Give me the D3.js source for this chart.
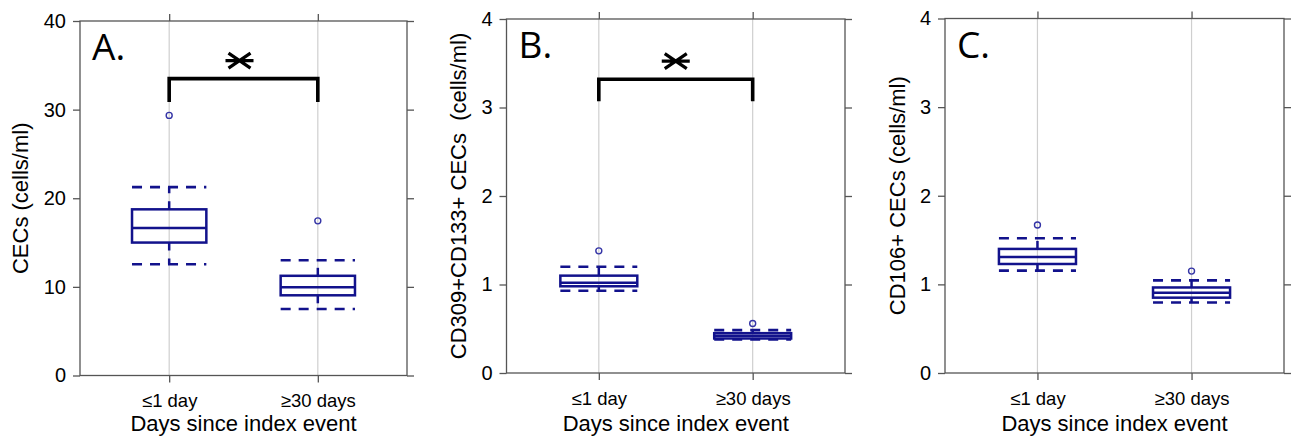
<!DOCTYPE html>
<html>
<head>
<meta charset="utf-8">
<script src="https://cdn.jsdelivr.net/npm/d3@7"></script>
<style>
  html, body { margin: 0; padding: 0; background: #fff; }
  svg { display: block; }
  text { font-family: "Liberation Sans", Arial, sans-serif; fill: #000; }
</style>
</head>
<body>
<svg id="chart" width="1291" height="437"></svg>
<script>
// ---- data ----
const categories = ["≤1 day", "≥30 days"];
const panelLetters = ["A.", "B.", "C."];
const yLabels = ["CECs (cells/ml)", "CD309+CD133+ CECs  (cells/ml)", "CD106+ CECs (cells/ml)"];
const xLabel = "Days since index event";
const yMax = [40, 4, 4];
const yTicksA = [0, 10, 20, 30, 40];
const yTicksBC = [0, 1, 2, 3, 4];

// panel A
const aQ1 = [15.0, 9.05];
const aMedian = [16.65, 9.95];
const aQ3 = [18.75, 11.25];
const aLowerWhisker = [12.55, 7.5];
const aUpperWhisker = [21.25, 13.0];
const aOutliers = [29.35, 17.45];
const aBracket = [30.85, 33.5];

// panel B
const bQ1 = [0.98, 0.39];
const bMedian = [1.02, 0.42];
const bQ3 = [1.10, 0.45];
const bLowerWhisker = [0.93, 0.38];
const bUpperWhisker = [1.20, 0.485];
const bOutliers = [1.38, 0.56];
const bBracket = [3.07, 3.32];

// panel C
const cQ1 = [1.23, 0.85];
const cMedian = [1.31, 0.905];
const cQ3 = [1.40, 0.965];
const cLowerWhisker = [1.155, 0.795];
const cUpperWhisker = [1.52, 1.045];
const cOutliers = [1.67, 1.15];

const panels = [
  { letter: panelLetters[0], ylabel: yLabels[0], ymax: yMax[0], ticks: yTicksA,
    q1: aQ1, med: aMedian, q3: aQ3, lo: aLowerWhisker, hi: aUpperWhisker, out: aOutliers, bracket: aBracket,
    box: { left: 80, right: 407, top: 21, bottom: 375.5 }, ylabX: 20 },
  { letter: panelLetters[1], ylabel: yLabels[1], ymax: yMax[1], ticks: yTicksBC,
    q1: bQ1, med: bMedian, q3: bQ3, lo: bLowerWhisker, hi: bUpperWhisker, out: bOutliers, bracket: bBracket,
    box: { left: 506.5, right: 845, top: 19, bottom: 373 }, ylabX: 458 },
  { letter: panelLetters[2], ylabel: yLabels[2], ymax: yMax[2], ticks: yTicksBC,
    q1: cQ1, med: cMedian, q3: cQ3, lo: cLowerWhisker, hi: cUpperWhisker, out: cOutliers, bracket: null,
    box: { left: 945, right: 1284, top: 18.5, bottom: 373 }, ylabX: 897 }
];

// ---- drawing ----
const svg = d3.select("#chart");
const boxColor = "#12128c";
const frameColor = "#555";
const tickLen = 7;

panels.forEach(p => {
  const b = p.box;
  const x = d3.scaleLinear().domain([0.4, 2.6]).range([b.left, b.right]);
  const y = d3.scaleLinear().domain([0, p.ymax]).range([b.bottom, b.top]);
  const g = svg.append("g");
  const idx = [0, 1];
  const pos = i => x(i + 1);
  const halfW = (x(1.25) - x(1));

  // grid lines
  g.selectAll("line.grid").data(idx).join("line")
    .attr("x1", pos).attr("x2", pos)
    .attr("y1", b.top).attr("y2", b.bottom)
    .attr("stroke", "#cfcfcf").attr("stroke-width", 1.2);

  // axes (ticks outward on all four sides)
  const yLeft = d3.axisLeft(y).tickValues(p.ticks).tickSize(tickLen).tickPadding(7).tickFormat(d3.format("d"));
  const yRight = d3.axisRight(y).tickValues(p.ticks).tickSize(tickLen).tickFormat("");
  const xBottom = d3.axisBottom(x).tickValues([1, 2]).tickSize(tickLen).tickPadding(8)
    .tickFormat(d => categories[d - 1]);
  const xTop = d3.axisTop(x).tickValues([1, 2]).tickSize(tickLen).tickFormat("");

  const gl = g.append("g").attr("transform", `translate(${b.left},0)`).call(yLeft);
  const gr = g.append("g").attr("transform", `translate(${b.right},0)`).call(yRight);
  const gb = g.append("g").attr("transform", `translate(0,${b.bottom})`).call(xBottom);
  const gt = g.append("g").attr("transform", `translate(0,${b.top})`).call(xTop);
  [gl, gr, gb, gt].forEach(a => {
    a.select(".domain").remove();
    a.selectAll(".tick line").attr("stroke", frameColor).attr("stroke-width", 1.3);
  });
  gl.selectAll(".tick text").style("font-size", "20px").attr("fill", "#000");
  gb.selectAll(".tick text").style("font-size", "18.5px").attr("fill", "#000").attr("dy", "0.9em");

  // frame
  g.append("rect")
    .attr("x", b.left).attr("y", b.top)
    .attr("width", b.right - b.left).attr("height", b.bottom - b.top)
    .attr("fill", "none").attr("stroke", frameColor).attr("stroke-width", 1.3);

  // whiskers (dashed)
  g.selectAll("line.wu").data(idx).join("line")
    .attr("x1", pos).attr("x2", pos)
    .attr("y1", i => y(p.q3[i])).attr("y2", i => y(p.hi[i]))
    .attr("stroke", boxColor).attr("stroke-width", 2.5).attr("stroke-dasharray", "8,8");
  g.selectAll("line.wl").data(idx).join("line")
    .attr("x1", pos).attr("x2", pos)
    .attr("y1", i => y(p.q1[i])).attr("y2", i => y(p.lo[i]))
    .attr("stroke", boxColor).attr("stroke-width", 2.5).attr("stroke-dasharray", "8,8");

  // caps (dashed, box width)
  [p.hi, p.lo].forEach(arr => {
    g.selectAll(null).data(idx).join("line")
      .attr("x1", i => pos(i) - halfW).attr("x2", i => pos(i) + halfW)
      .attr("y1", i => y(arr[i])).attr("y2", i => y(arr[i]))
      .attr("stroke", boxColor).attr("stroke-width", 2.6).attr("stroke-dasharray", "10,8");
  });

  // boxes
  g.selectAll("rect.box").data(idx).join("rect")
    .attr("x", i => pos(i) - halfW).attr("width", 2 * halfW)
    .attr("y", i => y(p.q3[i])).attr("height", i => y(p.q1[i]) - y(p.q3[i]))
    .attr("fill", "none").attr("stroke", boxColor).attr("stroke-width", 2.5);
  // medians
  g.selectAll("line.med").data(idx).join("line")
    .attr("x1", i => pos(i) - halfW).attr("x2", i => pos(i) + halfW)
    .attr("y1", i => y(p.med[i])).attr("y2", i => y(p.med[i]))
    .attr("stroke", boxColor).attr("stroke-width", 2.5);

  // outliers
  g.selectAll("circle.out").data(idx).join("circle")
    .attr("cx", pos).attr("cy", i => y(p.out[i])).attr("r", 3)
    .attr("fill", "none").attr("stroke", "#3434a6").attr("stroke-width", 1.4);

  // significance bracket
  if (p.bracket) {
    const x1 = pos(0), x2 = pos(1);
    const yb = y(p.bracket[0]), yt = y(p.bracket[1]);
    g.append("path")
      .attr("d", `M${x1},${yb}V${yt}H${x2}V${yb}`)
      .attr("fill", "none").attr("stroke", "#000").attr("stroke-width", 3.6)
      .attr("stroke-linejoin", "miter");
    const cx = (x1 + x2) / 2 - (p.ymax > 10 ? 4 : 0);
    const cy = yt - 18;
    g.append("path")
      .attr("d", `M${cx - 14},${cy}H${cx + 14}M${cx - 11},${cy - 7.5}L${cx + 11},${cy + 7.5}M${cx - 11},${cy + 7.5}L${cx + 11},${cy - 7.5}`)
      .attr("stroke", "#000").attr("stroke-width", 3.2).attr("fill", "none");
  }

  // panel letter
  g.append("text")
    .attr("x", b.left + 12).attr("y", b.top + 39)
    .style("font-family", "'Open Sans', 'Noto Sans', sans-serif")
    .style("font-size", "37px")
    .text(p.letter);

  // y label
  g.append("text")
    .attr("transform", `translate(${p.ylabX},${(b.top + b.bottom) / 2}) rotate(-90)`)
    .attr("text-anchor", "middle").attr("dominant-baseline", "central")
    .attr("xml:space", "preserve")
    .style("white-space", "pre")
    .style("font-size", "22px")
    .text(p.ylabel);

  // x label
  g.append("text")
    .attr("x", (b.left + b.right) / 2).attr("y", 431)
    .attr("text-anchor", "middle")
    .style("font-size", "22px")
    .text(xLabel);
});
</script>
</body>
</html>
